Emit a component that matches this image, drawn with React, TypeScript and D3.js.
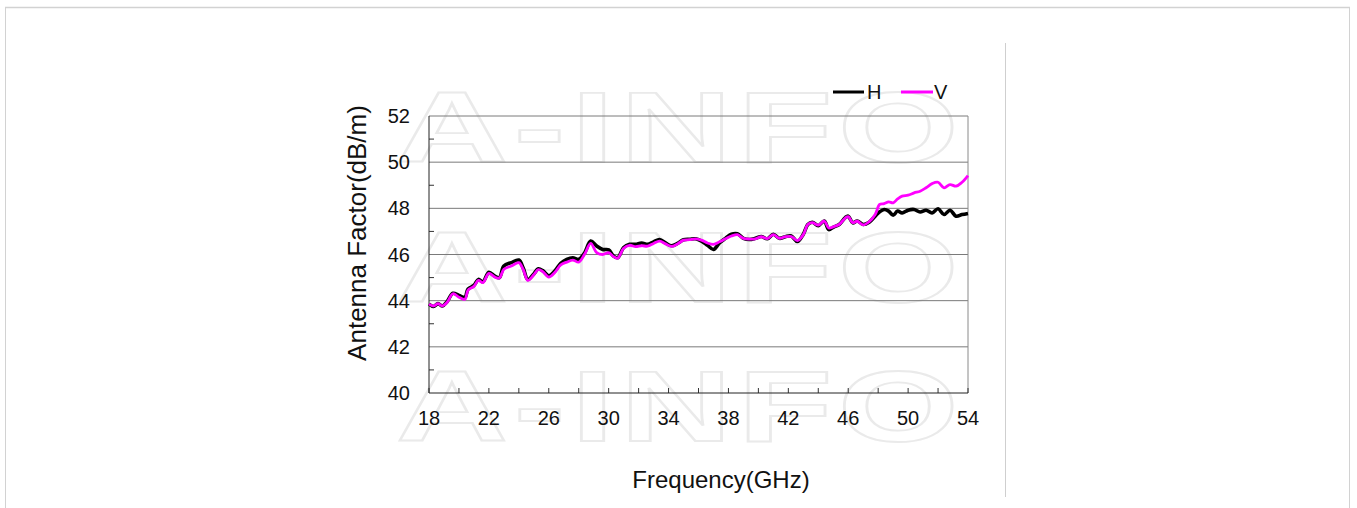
import React from 'react';
import * as d3 from 'd3';

// frequency (GHz) sample points
const freqs = [
  18, 18.3, 18.6, 18.9, 19.2, 19.6, 20, 20.4, 20.6, 21, 21.3, 21.6, 22, 22.4, 22.7, 23, 23.5, 24,
  24.3, 24.6, 25, 25.3, 25.6, 26, 26.4, 26.8, 27.2, 27.6, 28, 28.4, 28.8, 29.2, 29.6, 30, 30.3,
  30.6, 31, 31.4, 31.8, 32.2, 32.6, 33, 33.4, 33.8, 34.2, 34.6, 35, 35.4, 35.8, 36.2, 36.6, 37,
  37.4, 37.8, 38.2, 38.6, 39, 39.4, 39.8, 40.2, 40.6, 41, 41.4, 41.8, 42.2, 42.6, 43, 43.3, 43.6,
  44, 44.4, 44.7, 45, 45.4, 45.8, 46, 46.3, 46.6, 47, 47.4, 47.8, 48.1, 48.4, 48.7, 49, 49.3,
  49.6, 50, 50.4, 50.8, 51.2, 51.6, 52, 52.4, 52.8, 53.2, 53.6, 54,
];

const hValues = [
  43.85, 43.75, 43.87, 43.77, 43.95, 44.32, 44.23, 44.15, 44.5, 44.66, 44.92, 44.82, 45.23, 45.06,
  45.0, 45.5, 45.65, 45.76, 45.4, 44.92, 45.16, 45.38, 45.3, 45.08, 45.28, 45.62, 45.79, 45.86,
  45.79, 46.08, 46.58, 46.37, 46.22, 46.2, 45.95, 45.86, 46.3, 46.44, 46.44, 46.5, 46.44, 46.55,
  46.65, 46.5, 46.38, 46.48, 46.64, 46.66, 46.68, 46.58, 46.4, 46.22, 46.5, 46.7, 46.88, 46.9,
  46.7, 46.65, 46.7, 46.78, 46.68, 46.88, 46.7, 46.77, 46.8, 46.56, 46.88, 47.3, 47.4, 47.25,
  47.45, 47.08, 47.18, 47.3, 47.6, 47.66, 47.37, 47.45, 47.3, 47.4, 47.66, 47.85, 47.95, 47.88,
  47.7, 47.88, 47.8, 47.92, 47.95, 47.84, 47.92, 47.8, 47.98, 47.73, 47.92, 47.66, 47.73, 47.78,
];

const vValues = [
  43.85, 43.77, 43.87, 43.77, 43.92, 44.3, 44.15, 44.06, 44.45, 44.62, 44.88, 44.78, 45.18, 45.02,
  44.98, 45.36, 45.5, 45.65, 45.34, 44.88, 45.12, 45.34, 45.26, 45.02, 45.22, 45.55, 45.67, 45.76,
  45.67, 46.02, 46.48, 46.08, 46.0, 46.08, 45.92, 45.84, 46.27, 46.4, 46.34, 46.38, 46.36, 46.48,
  46.58, 46.46, 46.35, 46.46, 46.62, 46.64, 46.68, 46.62, 46.5, 46.44, 46.55, 46.68, 46.8, 46.86,
  46.7, 46.67, 46.68, 46.77, 46.69, 46.86, 46.7, 46.77, 46.78, 46.6, 46.86, 47.3, 47.38, 47.27,
  47.45, 47.15, 47.2, 47.3, 47.58, 47.64, 47.38, 47.44, 47.28, 47.42, 47.73, 48.17, 48.2, 48.28,
  48.24, 48.41, 48.53, 48.57, 48.67, 48.74, 48.89, 49.07, 49.13, 48.89, 49.03, 48.96, 49.13, 49.42,
];

const xTicks = [18, 22, 26, 30, 34, 38, 42, 46, 50, 54];
const yTicks = [40, 42, 44, 46, 48, 50, 52];
const seriesNames = ['H', 'V'];

const font = '"Liberation Sans", Arial, sans-serif';

export default function App() {
  const left = 429;
  const right = 968;
  const top = 116;
  const bottom = 393;

  const x = d3.scaleLinear().domain([18, 54]).range([left, right]);
  const y = d3.scaleLinear().domain([40, 52]).range([bottom, top]);

  const line = d3
    .line<number>()
    .x((_, i) => x(freqs[i]))
    .y(d => y(d))
    .curve(d3.curveCatmullRom.alpha(0.5));

  const minorY = d3.range(41, 52, 2);
  const minorX = d3.range(18, 55, 2);

  return (
    <svg
      width={1357}
      height={508}
      style={{ position: 'absolute', left: 0, top: 0, background: '#fff' }}
      fontFamily={font}
    >
      {/* page frame */}
      <line x1={5} x2={1350} y1={7.5} y2={7.5} stroke="#d2d2d2" strokeWidth={1.5} />
      <line x1={5.5} x2={5.5} y1={7} y2={508} stroke="#d2d2d2" />
      <line x1={1349.5} x2={1349.5} y1={7} y2={508} stroke="#d2d2d2" />
      <line x1={1005.5} x2={1005.5} y1={43} y2={497} stroke="#cfcfcf" />

      {/* watermark */}
      {[162, 302, 441].map(b => (
        <text
          key={b}
          transform={`translate(396,${b}) scale(1.55,1)`}
          fontSize={100}
          fontWeight="bold"
          textLength={363}
          lengthAdjust="spacing"
          fill="none"
          stroke="#eaeaea"
          strokeWidth={1.8}
        >
          A-INFO
        </text>
      ))}

      {/* grid */}
      {yTicks.slice(1).map(t => (
        <line key={t} x1={left} x2={right} y1={y(t)} y2={y(t)} stroke="#7a7a7a" strokeWidth={1} />
      ))}
      <line x1={right} x2={right} y1={top} y2={bottom} stroke="#8a8a8a" />

      {/* minor ticks */}
      {minorY.map(t => (
        <line key={t} x1={left} x2={left + 5} y1={y(t)} y2={y(t)} stroke="#333" />
      ))}
      {minorX.map(t => (
        <line key={t} x1={x(t)} x2={x(t)} y1={bottom} y2={bottom - 5} stroke="#333" />
      ))}

      {/* axes */}
      <line x1={left} x2={left} y1={top} y2={bottom} stroke="#222" />
      <line x1={left} x2={right} y1={bottom} y2={bottom} stroke="#222" />

      {yTicks.map(t => (
        <text key={t} x={410} y={y(t)} dy="0.35em" textAnchor="end" fontSize={20} fill="#111">
          {t}
        </text>
      ))}
      {xTicks.map(t => (
        <text key={t} x={x(t)} y={425} textAnchor="middle" fontSize={20} fill="#111">
          {t}
        </text>
      ))}

      {/* series */}
      <path d={line(hValues) || ''} fill="none" stroke="#000" strokeWidth={3.6} strokeLinejoin="round" />
      <path d={line(vValues) || ''} fill="none" stroke="#ff00ff" strokeWidth={2.8} strokeLinejoin="round" />

      {/* legend */}
      <line x1={833} x2={864} y1={92} y2={92} stroke="#000" strokeWidth={3} />
      <text x={867} y={99} fontSize={20} fill="#111">{seriesNames[0]}</text>
      <line x1={901} x2={933} y1={92} y2={92} stroke="#ff00ff" strokeWidth={3} />
      <text x={934} y={99} fontSize={20} fill="#111">{seriesNames[1]}</text>

      {/* axis titles */}
      <text x={721} y={488} textAnchor="middle" fontSize={24} fill="#111">
        Frequency(GHz)
      </text>
      <text
        transform="translate(366,233) rotate(-90)"
        textAnchor="middle"
        fontSize={26}
        fill="#111"
      >
        Antenna Factor(dB/m)
      </text>
    </svg>
  );
}
